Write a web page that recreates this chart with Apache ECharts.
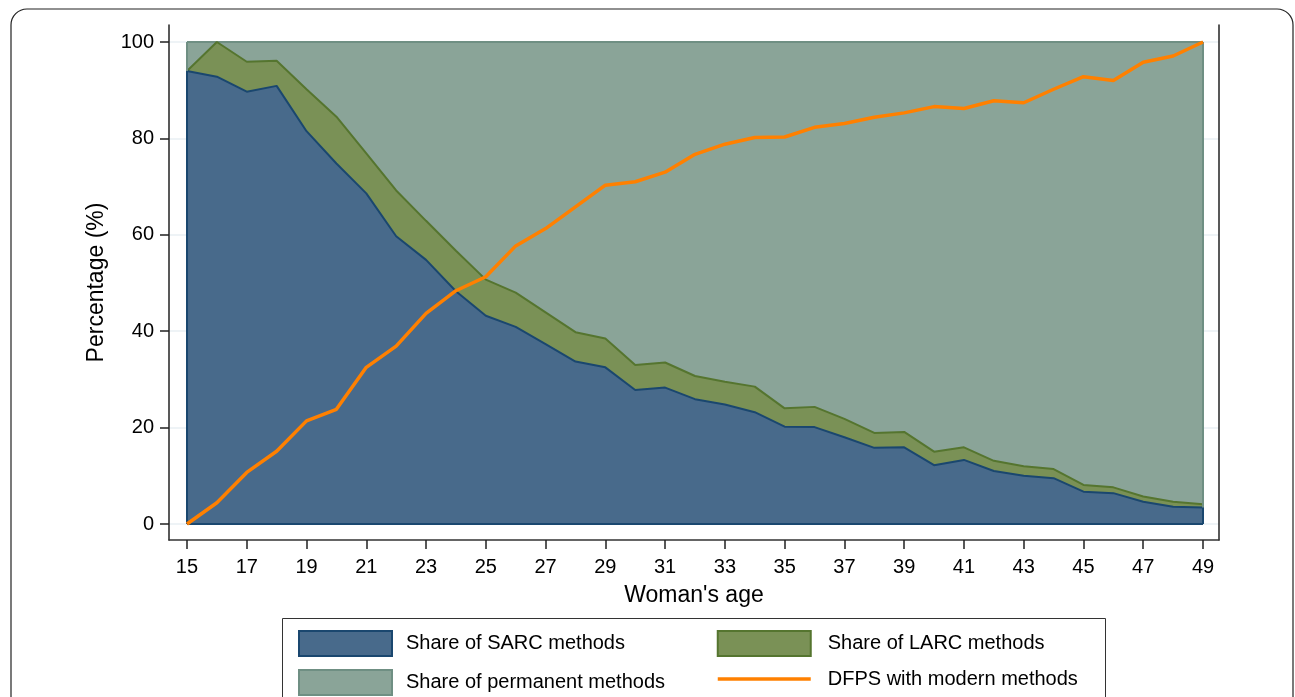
<!DOCTYPE html>
<html>
<head>
<meta charset="utf-8">
<script src="https://cdn.jsdelivr.net/npm/echarts@6/dist/echarts.min.js"></script>
<style>
html,body{margin:0;padding:0;background:#fff;}
#chart{width:1295px;height:697px;}
</style>
</head>
<body>
<div id="chart"></div>
<script>
// ---- data ----
const ages = [15,16,17,18,19,20,21,22,23,24,25,26,27,28,29,30,31,32,33,34,35,36,37,38,39,40,41,42,43,44,45,46,47,48,49];
const sarc = [94.0,92.8,89.7,90.9,81.5,74.8,68.6,59.7,54.8,48.3,43.2,40.9,37.3,33.7,32.5,27.8,28.3,25.9,24.8,23.2,20.2,20.1,18.0,15.8,15.9,12.2,13.3,11.0,10.0,9.5,6.7,6.4,4.6,3.6,3.4];
const larc = [0.0,7.2,6.2,5.2,8.7,9.7,8.3,9.5,8.1,8.4,7.5,7.1,6.6,6.1,6.0,5.2,5.2,4.8,4.7,5.3,3.8,4.2,3.8,3.1,3.2,2.8,2.6,2.1,2.0,1.9,1.4,1.2,1.1,1.0,0.7];
const permanent = [6.0,0.0,4.1,3.9,9.8,15.5,23.1,30.8,37.1,43.3,49.3,52.0,56.1,60.2,61.5,67.0,66.5,69.3,70.5,71.5,76.0,75.7,78.2,81.1,80.9,85.0,84.1,86.9,88.0,88.6,91.9,92.4,94.3,95.4,95.9];
const dfps = [0.0,4.4,10.7,15.1,21.4,23.8,32.5,36.9,43.7,48.4,51.3,57.7,61.3,65.8,70.3,71.0,73.0,76.7,78.8,80.2,80.3,82.3,83.1,84.4,85.3,86.6,86.2,87.8,87.4,90.2,92.8,92.0,95.8,97.1,100.0];
const xTicks = [15,17,19,21,23,25,27,29,31,33,35,37,39,41,43,45,47,49];
const yTicks = [0,20,40,60,80,100];
const names = ['Share of SARC methods','Share of LARC methods','Share of permanent methods','DFPS with modern methods'];

// cumulative (stacked) tops, built from the shares above
const cumSarc = sarc.slice();
const cumLarc = sarc.map((v,i)=>+(v+larc[i]).toFixed(2));
const cumPerm = cumLarc.map((v,i)=>+(v+permanent[i]).toFixed(2));
const pair = arr => ages.map((a,i)=>[a,arr[i]]);
const n = ages.length;
const first = ages[0], last = ages[n-1];

const FONT = '"Liberation Sans", Arial, Helvetica, sans-serif';
const C = {
  sarcFill:'#486a8b', sarcLine:'#1a476f',
  larcFill:'#7a9156', larcLine:'#55752f',
  permFill:'#8aa498', permLine:'#6f8f83',
  dfps:'#ff8000', grid:'#e8eff3'
};

const chart = echarts.init(document.getElementById('chart'), null, {renderer:'canvas'});
chart.setOption({
  animation:false,
  backgroundColor:'#fff',
  graphic:[
    {type:'rect', shape:{x:11,y:9,width:1282,height:720,r:16}, style:{fill:'none',stroke:'#222',lineWidth:1.2}, z:-10},
    {type:'rect', shape:{x:282.5,y:618.5,width:823,height:100}, style:{fill:'#fff',stroke:'#333',lineWidth:1}, z:-5}
  ],
  grid:{left:169, right:76, top:25, bottom:157},
  xAxis:{
    type:'value', min:14.398, max:49.535,
    name:"Woman's age", nameLocation:'middle', nameGap:44,
    nameTextStyle:{fontFamily:FONT,fontSize:23,color:'#000'},
    axisLine:{show:true,onZero:false,lineStyle:{color:'#333',width:1.5}},
    axisTick:{show:true,length:9,customValues:xTicks,lineStyle:{color:'#222',width:1.5}},
    axisLabel:{customValues:xTicks,fontFamily:FONT,fontSize:20,color:'#000',margin:17},
    splitLine:{show:false}
  },
  yAxis:[{
    type:'value', min:-3.32, max:103.53, position:'left',
    name:'Percentage (%)', nameLocation:'middle', nameGap:61,
    nameTextStyle:{fontFamily:FONT,fontSize:23,color:'#000'},
    axisLine:{show:true,onZero:false,lineStyle:{color:'#222',width:1.5}},
    axisTick:{show:true,length:9,customValues:yTicks,lineStyle:{color:'#222',width:1.5}},
    axisLabel:{customValues:yTicks,fontFamily:FONT,fontSize:20,color:'#000',margin:15},
    splitLine:{show:true,lineStyle:{color:C.grid,width:1.5}}
  },{
    type:'value', min:-3.32, max:103.53, position:'right',
    axisLine:{show:true,onZero:false,lineStyle:{color:'#222',width:1.5}},
    axisTick:{show:false}, axisLabel:{show:false}, splitLine:{show:false}
  }],
  legend:[{
    left:298, top:630, orient:'vertical', padding:0, itemWidth:93, itemHeight:25, itemGap:12,
    textStyle:{fontFamily:FONT,fontSize:20,color:'#000',padding:[1,0,0,9]},
    selectedMode:false,
    data:[
      {name:names[0], icon:'rect', itemStyle:{color:C.sarcFill,borderColor:C.sarcLine,borderWidth:2}},
      {name:names[2], icon:'rect', itemStyle:{color:C.permFill,borderColor:C.permLine,borderWidth:2}}
    ]
  },{
    left:716, top:630, orient:'vertical', padding:0, itemWidth:93, itemHeight:25, itemGap:12,
    textStyle:{fontFamily:FONT,fontSize:20,color:'#000',padding:[0,0,0,12]},
    selectedMode:false,
    data:[
      {name:names[1], icon:'rect', itemStyle:{color:C.larcFill,borderColor:C.larcLine,borderWidth:2}},
      {name:names[3], itemStyle:{opacity:0}, lineStyle:{color:C.dfps,width:3.5}}
    ]
  }],
  series:[
    {
      name:names[2], type:'line', symbol:'none', data:pair(cumPerm),
      lineStyle:{color:C.permLine,width:2}, itemStyle:{color:C.permFill},
      areaStyle:{color:C.permFill,opacity:1}, z:2,
      markLine:{
        silent:true, symbol:'none', label:{show:false},
        lineStyle:{color:C.permLine,width:2,type:'solid'},
        data:[
          [{coord:[first,0]},{coord:[first,cumPerm[0]]}],
          [{coord:[last,0]},{coord:[last,cumPerm[n-1]]}]
        ]
      }
    },
    {
      name:names[1], type:'line', symbol:'none', data:pair(cumLarc),
      lineStyle:{color:C.larcLine,width:2}, itemStyle:{color:C.larcFill},
      areaStyle:{color:C.larcFill,opacity:1}, z:3
    },
    {
      name:names[0], type:'line', symbol:'none', data:pair(cumSarc),
      lineStyle:{color:C.sarcLine,width:2}, itemStyle:{color:C.sarcFill},
      areaStyle:{color:C.sarcFill,opacity:1}, z:4,
      markLine:{
        silent:true, symbol:'none', label:{show:false},
        lineStyle:{color:C.sarcLine,width:2,type:'solid'},
        data:[
          [{coord:[first,0]},{coord:[last,0]}],
          [{coord:[first,0]},{coord:[first,cumSarc[0]]}],
          [{coord:[last,0]},{coord:[last,cumSarc[n-1]]}]
        ]
      }
    },
    {
      name:names[3], type:'line', symbol:'none', data:pair(dfps),
      lineStyle:{color:C.dfps,width:3.5}, itemStyle:{color:C.dfps}, z:8
    }
  ]
});
</script>
</body>
</html>
